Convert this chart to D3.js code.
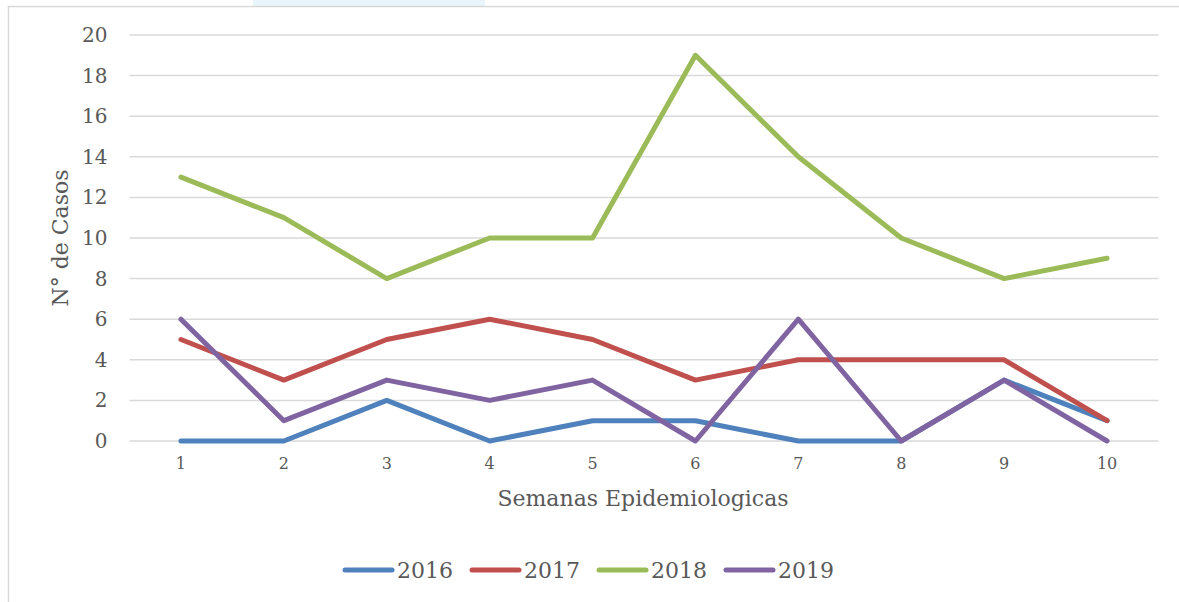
<!DOCTYPE html>
<html>
<head>
<meta charset="utf-8">
<script src="https://cdn.jsdelivr.net/npm/d3@7"></script>
<style>
  body { margin: 0; background: #fff; }
  svg text { font-family: "DejaVu Serif", "Liberation Serif", serif; fill: #595959; }
</style>
</head>
<body>
<svg id="chart" width="1179" height="602"></svg>
<script>
// data
const weeks = [1, 2, 3, 4, 5, 6, 7, 8, 9, 10];
const years = ["2016", "2017", "2018", "2019"];
const cases2016 = [0, 0, 2, 0, 1, 1, 0, 0, 3, 1];
const cases2017 = [5, 3, 5, 6, 5, 3, 4, 4, 4, 1];
const cases2018 = [13, 11, 8, 10, 10, 19, 14, 10, 8, 9];
const cases2019 = [6, 1, 3, 2, 3, 0, 6, 0, 3, 0];
const yTicks = [0, 2, 4, 6, 8, 10, 12, 14, 16, 18, 20];

const seriesValues = [cases2016, cases2017, cases2018, cases2019];
const colors = ["#4f81bd", "#c0504d", "#9bbb59", "#8064a2"];

const svg = d3.select("#chart");

// faint frame + scan artifact at the top
svg.append("rect")
	.attr("x", 253).attr("y", 0)
	.attr("width", 232).attr("height", 6)
	.attr("fill", "#e8f5fb");

svg.append("rect")
	.attr("x", 8.5).attr("y", 6.5)
	.attr("width", 1300).attr("height", 700)
	.attr("fill", "none")
	.attr("stroke", "#d9d9d9")
	.attr("stroke-width", 1.5);

const plot = { left: 129.5, right: 1158.5, top: 35, bottom: 441 };

const x = d3.scaleBand()
	.domain(weeks)
	.range([plot.left, plot.right]);

const y = d3.scaleLinear()
	.domain([0, 20])
	.range([plot.bottom, plot.top]);

const cx = d => x(d) + x.bandwidth() / 2;

// gridlines
svg.append("g")
	.selectAll("line")
	.data(yTicks)
	.enter().append("line")
	.attr("x1", plot.left)
	.attr("x2", plot.right)
	.attr("y1", d => y(d))
	.attr("y2", d => y(d))
	.attr("stroke", "#d9d9d9")
	.attr("stroke-width", 1.5);

// y axis labels
const yAxis = svg.append("g")
	.attr("transform", `translate(${plot.left - 22},0)`)
	.call(d3.axisLeft(y).tickValues(yTicks).tickSize(0).tickPadding(0));
yAxis.select(".domain").remove();
yAxis.selectAll("text")
	.attr("font-size", 20)
	.attr("fill", "#595959")
	.style("font-family", "\"DejaVu Serif\", serif");

// x axis labels
const xAxis = svg.append("g")
	.attr("transform", `translate(0,${plot.bottom + 17})`)
	.call(d3.axisBottom(x).tickSize(0).tickPadding(0));
xAxis.select(".domain").remove();
xAxis.selectAll("text")
	.attr("font-size", 16)
	.attr("fill", "#595959")
	.style("font-family", "\"DejaVu Serif\", serif");

// axis titles
svg.append("text")
	.attr("transform", `translate(68,238) rotate(-90)`)
	.attr("text-anchor", "middle")
	.attr("font-size", 22)
	.text("N° de Casos");

svg.append("text")
	.attr("x", 643)
	.attr("y", 506)
	.attr("text-anchor", "middle")
	.attr("font-size", 22)
	.text("Semanas Epidemiologicas");

// lines
const line = d3.line()
	.x((d, i) => cx(weeks[i]))
	.y(d => y(d));

svg.append("g")
	.selectAll("path")
	.data(seriesValues)
	.enter().append("path")
	.attr("d", d => line(d))
	.attr("fill", "none")
	.attr("stroke", (d, i) => colors[i])
	.attr("stroke-width", 5)
	.attr("stroke-linejoin", "round")
	.attr("stroke-linecap", "round");

// legend
const legend = svg.append("g")
	.attr("transform", "translate(343,570)");

const item = legend.selectAll("g")
	.data(years)
	.enter().append("g")
	.attr("transform", (d, i) => `translate(${i * 127},0)`);

item.append("line")
	.attr("x1", 2).attr("x2", 49)
	.attr("y1", 0).attr("y2", 0)
	.attr("stroke", (d, i) => colors[i])
	.attr("stroke-width", 5)
	.attr("stroke-linecap", "round");

item.append("text")
	.attr("x", 54)
	.attr("y", 8)
	.attr("font-size", 22)
	.text(d => d);
</script>
</body>
</html>
